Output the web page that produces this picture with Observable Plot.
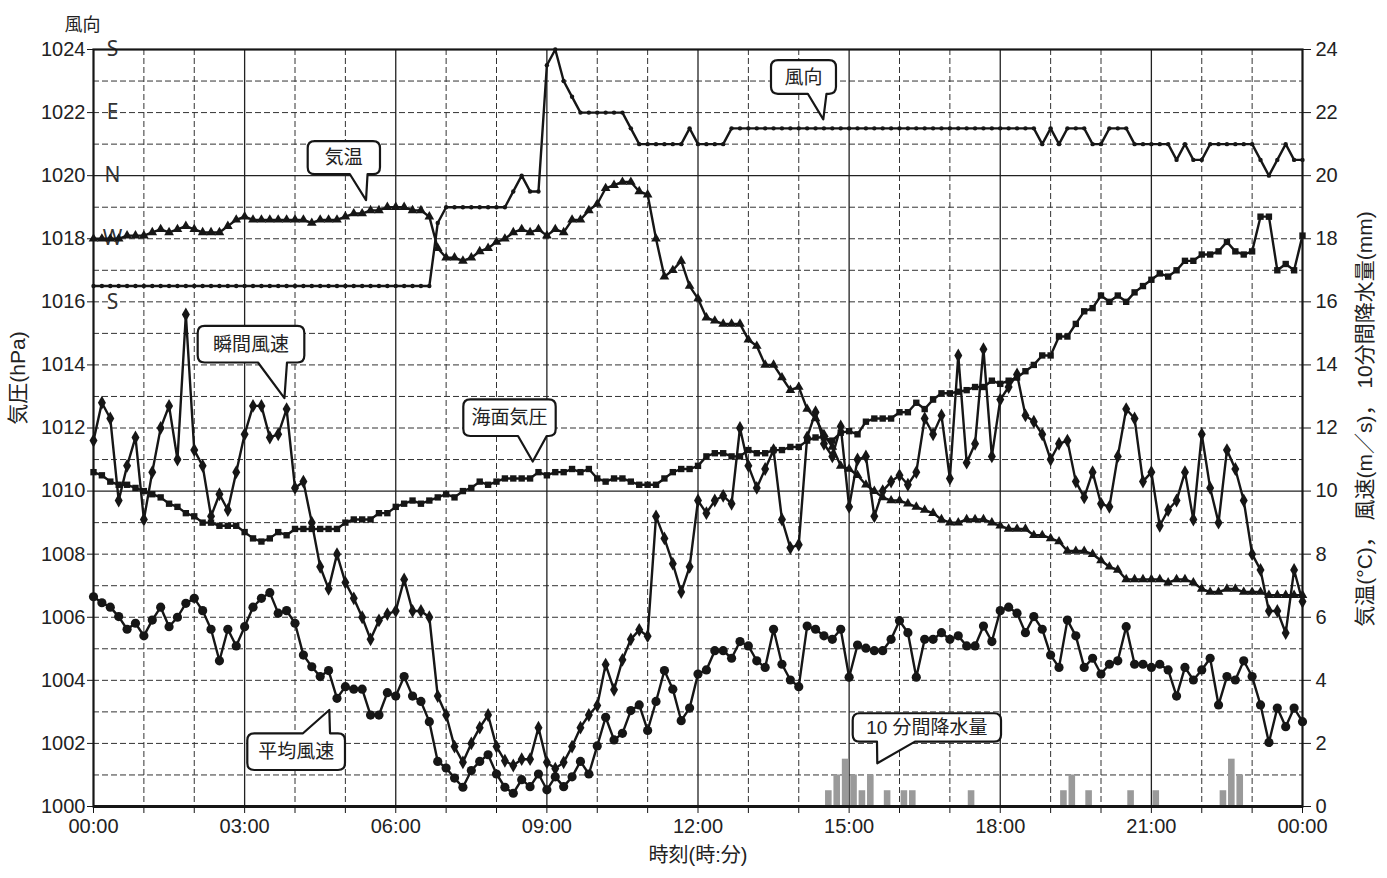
<!DOCTYPE html>
<html><head><meta charset="utf-8">
<script src="https://cdn.jsdelivr.net/npm/d3@7"></script>
<script src="https://cdn.jsdelivr.net/npm/@observablehq/plot@0.6"></script>
<style>body{margin:0;background:#fff}</style>
</head><body><div id="chart"></div>
<script>
// 10-minute observations, 00:00 .. 24:00 (145 samples)
const temperature = [
18.0,18.0,18.0,18.0,18.1,18.1,18.1,18.2,18.3,18.2,18.3,18.4,
18.3,18.2,18.2,18.2,18.4,18.6,18.7,18.6,18.6,18.6,18.6,18.6,
18.6,18.6,18.5,18.6,18.6,18.6,18.7,18.8,18.8,18.9,18.9,19.0,
19.0,19.0,18.9,18.9,18.7,17.7,17.4,17.4,17.3,17.4,17.6,17.7,
17.9,18.0,18.2,18.3,18.2,18.3,18.1,18.3,18.2,18.6,18.6,18.9,
19.1,19.6,19.7,19.8,19.8,19.5,19.4,18.0,16.8,17.0,17.3,16.5,
16.1,15.5,15.4,15.3,15.3,15.3,14.8,14.6,14.0,14.0,13.6,13.2,
13.3,12.6,12.3,11.8,11.4,10.8,10.7,10.5,10.2,10.0,9.8,9.7,
9.7,9.6,9.5,9.4,9.3,9.1,9.0,9.0,9.1,9.1,9.1,9.0,
8.9,8.8,8.8,8.8,8.6,8.6,8.5,8.4,8.1,8.1,8.1,8.0,
7.8,7.6,7.5,7.2,7.2,7.2,7.2,7.2,7.1,7.2,7.2,7.1,
6.9,6.8,6.8,6.9,6.9,6.8,6.8,6.8,6.7,6.7,6.7,6.7,
6.7];
const pressure = [
1010.6,1010.5,1010.3,1010.2,1010.2,1010.1,1010.0,1009.9,1009.8,1009.6,1009.5,1009.3,
1009.2,1009.0,1009.0,1008.9,1008.9,1008.9,1008.7,1008.5,1008.4,1008.5,1008.7,1008.6,
1008.8,1008.8,1008.8,1008.8,1008.8,1008.8,1009.0,1009.1,1009.1,1009.1,1009.3,1009.3,
1009.5,1009.6,1009.7,1009.6,1009.7,1009.8,1009.9,1009.8,1010.0,1010.1,1010.3,1010.2,
1010.3,1010.4,1010.4,1010.4,1010.4,1010.6,1010.5,1010.6,1010.6,1010.7,1010.6,1010.7,
1010.4,1010.3,1010.4,1010.4,1010.3,1010.2,1010.2,1010.2,1010.4,1010.6,1010.7,1010.7,
1010.8,1011.1,1011.2,1011.2,1011.1,1011.1,1011.3,1011.2,1011.2,1011.3,1011.3,1011.4,
1011.4,1011.6,1011.7,1011.7,1011.6,1011.85,1011.9,1011.8,1012.2,1012.3,1012.3,1012.3,
1012.5,1012.5,1012.8,1012.6,1012.9,1013.1,1013.1,1013.15,1013.2,1013.3,1013.3,1013.5,
1013.4,1013.5,1013.6,1013.8,1014.0,1014.3,1014.3,1014.9,1014.9,1015.3,1015.7,1015.8,
1016.2,1016.0,1016.2,1016.0,1016.3,1016.5,1016.7,1016.9,1016.8,1017.0,1017.3,1017.3,
1017.5,1017.5,1017.6,1017.9,1017.6,1017.5,1017.6,1018.7,1018.7,1017.0,1017.2,1017.0,
1018.1];
const gust = [
11.6,12.8,12.3,9.7,10.8,11.7,9.1,10.6,12.0,12.7,11.0,15.6,
11.3,10.8,9.2,9.9,9.4,10.6,11.8,12.7,12.7,11.7,11.8,12.6,
10.1,10.3,9.0,7.6,6.9,8.0,7.1,6.6,6.0,5.3,5.9,6.1,
6.2,7.2,6.2,6.2,6.0,3.5,2.9,1.9,1.4,2.0,2.5,2.9,
1.9,1.45,1.3,1.5,1.5,2.5,1.4,1.2,1.4,1.9,2.5,2.9,
3.2,4.5,3.7,4.65,5.3,5.6,5.4,9.2,8.5,7.7,6.8,7.6,
9.7,9.3,9.7,9.85,9.6,12.0,10.8,10.1,10.7,11.3,9.1,8.2,
8.3,11.7,12.5,11.5,11.1,12.05,9.5,11.0,11.1,9.2,10.0,10.3,
10.5,10.2,10.6,12.3,11.8,12.4,10.4,14.3,10.9,11.5,14.5,11.1,
12.9,13.3,13.7,12.4,12.2,11.8,11.0,11.5,11.6,10.3,9.8,10.6,
9.6,9.5,11.1,12.6,12.3,10.3,10.6,8.9,9.4,9.7,10.6,9.1,
11.8,10.1,9.0,11.3,10.7,9.7,8.0,7.5,6.2,6.2,5.5,7.5,
6.5];
const meanWind = [
6.65,6.46,6.32,6.02,5.62,5.81,5.41,5.91,6.32,5.7,6.0,6.44,
6.6,6.21,5.62,4.62,5.62,5.09,5.7,6.32,6.6,6.78,6.13,6.21,
5.81,4.8,4.43,4.12,4.31,3.43,3.8,3.72,3.72,2.9,2.9,3.61,
3.5,4.12,3.5,3.33,2.69,1.43,1.22,0.9,0.61,1.14,1.43,1.64,
1.03,0.61,0.42,0.85,0.63,1.03,0.53,0.94,0.63,0.94,1.43,1.03,
1.92,2.83,2.11,2.32,3.04,3.22,2.41,3.33,4.31,3.72,2.72,3.12,
4.2,4.33,4.94,4.94,4.7,5.23,5.09,4.62,4.41,5.62,4.51,4.01,
3.8,5.72,5.62,5.41,5.3,5.62,4.1,5.12,5.02,4.94,4.94,5.3,
5.89,5.51,4.1,5.3,5.3,5.51,5.3,5.41,5.09,5.09,5.72,5.23,
6.21,6.32,6.13,5.51,6.02,5.62,4.8,4.41,5.91,5.41,4.41,4.7,
4.2,4.51,4.62,5.7,4.51,4.51,4.41,4.51,4.33,3.5,4.41,4.01,
4.33,4.7,3.22,4.12,4.01,4.62,4.12,3.22,2.03,3.12,2.53,3.12,
2.69];
const windDir = [
"SSW","SSW","SSW","SSW","SSW","SSW","SSW","SSW","SSW","SSW","SSW","SSW",
"SSW","SSW","SSW","SSW","SSW","SSW","SSW","SSW","SSW","SSW","SSW","SSW",
"SSW","SSW","SSW","SSW","SSW","SSW","SSW","SSW","SSW","SSW","SSW","SSW",
"SSW","SSW","SSW","SSW","SSW","WNW","NW","NW","NW","NW","NW","NW",
"NW","NW","NNW","N","NNW","NNW","SSE","S","SE","ESE","E","E",
"E","E","E","E","ENE","NE","NE","NE","NE","NE","NE","ENE",
"NE","NE","NE","NE","ENE","ENE","ENE","ENE","ENE","ENE","ENE","ENE",
"ENE","ENE","ENE","ENE","ENE","ENE","ENE","ENE","ENE","ENE","ENE","ENE",
"ENE","ENE","ENE","ENE","ENE","ENE","ENE","ENE","ENE","ENE","ENE","ENE",
"ENE","ENE","ENE","ENE","ENE","NE","ENE","NE","ENE","ENE","ENE","NE",
"NE","ENE","ENE","ENE","NE","NE","NE","NE","NE","NNE","NE","NNE",
"NNE","NE","NE","NE","NE","NE","NE","NNE","N","NNE","NE","NNE",
"NNE"];
const precipTimes = ["14:40","14:50","15:00","15:10","15:20","15:30","15:50","16:10","16:20","17:30",
                     "19:20","19:30","19:50","20:40","21:10","22:30","22:40","22:50"];
const precipMm    = [0.5,1.0,1.5,1.0,0.5,1.0,0.5,0.5,0.5,0.5, 0.5,1.0,0.5,0.5,0.5,0.5,1.5,1.0];

// direction axis: S(bottom) W N E S(top)
const compass = ["S","SSW","SW","WSW","W","WNW","NW","NNW","N","NNE","NE","ENE","E","ESE","SE","SSE","S"];
const dirAxisLabels = ["S","E","N","W","S"];
const dirAxisValues = [24,22,20,18,16];
const leftTicks = d3.range(0, 25, 2);
const hourTicks = d3.range(0, 25, 1);

const hourOf = i => i / 6;
const hm = s => { const [h, m] = s.split(":").map(Number); return h + m / 60; };
const dirPos = name => 16 + 0.5 * compass.lastIndexOf(name);

const tData = temperature.map((v, i) => ({t: hourOf(i), v}));
const pData = pressure.map((p, i) => ({t: hourOf(i), v: p - 1000}));
const gData = gust.map((v, i) => ({t: hourOf(i), v}));
const mData = meanWind.map((v, i) => ({t: hourOf(i), v}));
const dData = windDir.map((d, i) => ({t: hourOf(i), v: dirPos(d)}));
const rData = precipTimes.map((s, i) => ({t: hm(s), v: precipMm[i]}));

const callouts = [
  {label: "気温", x0: 4.262, x1: 5.697, y0: 21.08, y1: 20.03, b0: 5.10, b1: 5.45, tx: 5.42, ty: 19.21, side: "bottom"},
  {label: "瞬間風速", x0: 2.078, x1: 4.195, y0: 15.22, y1: 14.06, b0: 3.275, b1: 3.851, tx: 3.80, ty: 12.93, side: "bottom"},
  {label: "海面気圧", x0: 7.351, x1: 9.185, y0: 12.89, y1: 11.73, b0: 8.437, b1: 9.006, tx: 8.729, ty: 10.92, side: "bottom"},
  {label: "風向", x0: 13.459, x1: 14.749, y0: 23.65, y1: 22.58, b0: 14.19, b1: 14.56, tx: 14.497, ty: 21.77, side: "bottom"},
  {label: "平均風速", x0: 3.063, x1: 5.002, y0: 2.305, y1: 1.141, b0: 4.169, b1: 4.705, tx: 4.691, ty: 3.044, side: "top"},
  {label: "10 分間降水量", x0: 15.081, x1: 18.025, y0: 2.94, y1: 2.04, b0: 15.563, b1: 16.317, tx: 15.569, ty: 1.354, side: "bottom"}
];

const FONT = "'Liberation Sans', Arial, 'Noto Sans CJK JP', sans-serif";
const INK = "#161616";
const fmtHour = h => String(h % 24).padStart(2, "0") + ":00";

const chart = Plot.plot({
  width: 1387, height: 878,
  marginLeft: 93, marginRight: 85, marginTop: 49, marginBottom: 72,
  x: {type: "linear", domain: [0, 24]},
  y: {type: "linear", domain: [0, 24]},
  style: {fontFamily: FONT, fontSize: "20px", color: "#222", background: "#fff"},
  marks: [
    // grid
    Plot.ruleY(d3.range(1, 24).filter(v => v % 10 !== 0), {stroke: "#333", strokeWidth: 1, strokeDasharray: "6,3"}),
    Plot.ruleX(d3.range(1, 24).filter(h => h % 3 !== 0), {stroke: "#333", strokeWidth: 1, strokeDasharray: "6,3"}),
    Plot.ruleY([10, 20], {stroke: "#222", strokeWidth: 1.3}),
    Plot.ruleX(d3.range(3, 24, 3), {stroke: "#222", strokeWidth: 1.3}),
    // direction letters
    Plot.text(dirAxisLabels, {x: 0, y: (d, i) => dirAxisValues[i], text: d => d, dx: 19, fontSize: 21, fill: "#333", fontFamily: "'Noto Sans', 'DejaVu Sans', sans-serif"}),
    // precipitation
    Plot.rectY(rData, {x1: d => d.t - 1/6, x2: "t", y: "v", fill: "#9a9a9a", insetLeft: 1.6, insetRight: 0.2}),
    // series
    Plot.line(dData, {x: "t", y: "v", stroke: INK, strokeWidth: 2.4}),
    Plot.dot(dData, {x: "t", y: "v", r: 2.2, fill: INK}),
    Plot.line(tData, {x: "t", y: "v", stroke: INK, strokeWidth: 2.4}),
    Plot.dot(tData, {x: "t", y: "v", symbol: "triangle", r: 3.6, fill: INK}),
    Plot.line(pData, {x: "t", y: "v", stroke: INK, strokeWidth: 2.4}),
    Plot.dot(pData, {x: "t", y: "v", symbol: "square", r: 3.6, fill: INK}),
    Plot.line(gData, {x: "t", y: "v", stroke: INK, strokeWidth: 2.4}),
    Plot.dot(gData, {x: "t", y: "v", symbol: "diamond", r: 4.2, fill: INK}),
    Plot.line(mData, {x: "t", y: "v", stroke: INK, strokeWidth: 2.4}),
    Plot.dot(mData, {x: "t", y: "v", r: 4.6, fill: INK}),
    // frame & axes
    Plot.frame({stroke: INK, strokeWidth: 2.2}),
    Plot.ruleY([0], {stroke: INK, strokeWidth: 3.2}),
    Plot.axisY({anchor: "left", ticks: leftTicks, tickFormat: d => String(1000 + d), tickSize: 6, tickPadding: 2, label: null, fontSize: 20, stroke: INK}),
    Plot.axisY({anchor: "right", ticks: leftTicks, tickFormat: d => String(d), tickSize: 8, tickPadding: 5, label: null, fontSize: 20, stroke: INK}),
    Plot.axisX({ticks: hourTicks, tickFormat: h => h % 3 === 0 ? fmtHour(h) : "", tickSize: 7, tickPadding: 5, label: null, fontSize: 20, stroke: INK}),
    // titles
    Plot.text(["時刻(時:分)"], {frameAnchor: "bottom", dy: 55, fontSize: 20, fill: "#222"}),
    Plot.text(["気圧(hPa)"], {frameAnchor: "left", textAnchor: "middle", dx: -75, dy: -50, rotate: -90, fontSize: 21, fill: "#222"}),
    Plot.text(["気温(°C)， 風速(m／s)， 10分間降水量(mm)"], {frameAnchor: "right", textAnchor: "middle", dx: 63, dy: -9, rotate: -90, fontSize: 21, fill: "#222"}),
    Plot.text(["風向"], {frameAnchor: "top-left", textAnchor: "middle", dx: -11, dy: -31, fontSize: 18, fill: "#222"})
  ]
});

// callout bubbles, positioned through the chart's own scales
const sx = chart.scale("x"), sy = chart.scale("y");
const fx = sx.apply ? v => sx.apply(v) : d3.scaleLinear(sx.domain, sx.range);
const fy = sy.apply ? v => sy.apply(v) : d3.scaleLinear(sy.domain, sy.range);
const svg = d3.select(chart.tagName.toLowerCase() === "svg" ? chart : chart.querySelector("svg"));
const g = svg.append("g");
for (const c of callouts) {
  const X0 = fx(c.x0), X1 = fx(c.x1), Y0 = fy(c.y0), Y1 = fy(c.y1);
  const B0 = fx(c.b0), B1 = fx(c.b1), TX = fx(c.tx), TY = fy(c.ty), r = 7;
  let p = `M${X0 + r},${Y0}`;
  if (c.side === "top") p += `L${B0},${Y0}L${TX},${TY}L${B1},${Y0}`;
  p += `L${X1 - r},${Y0}Q${X1},${Y0} ${X1},${Y0 + r}L${X1},${Y1 - r}Q${X1},${Y1} ${X1 - r},${Y1}`;
  if (c.side === "bottom") p += `L${B1},${Y1}L${TX},${TY}L${B0},${Y1}`;
  p += `L${X0 + r},${Y1}Q${X0},${Y1} ${X0},${Y1 - r}L${X0},${Y0 + r}Q${X0},${Y0} ${X0 + r},${Y0}Z`;
  g.append("path").attr("d", p).attr("fill", "#fff").attr("stroke", INK).attr("stroke-width", 2.2).attr("stroke-linejoin", "round");
  g.append("text").attr("x", (X0 + X1) / 2).attr("y", (Y0 + Y1) / 2).attr("dy", "0.35em")
    .attr("text-anchor", "middle").attr("font-size", 19).attr("font-family", FONT).attr("fill", "#222").text(c.label);
}
document.getElementById("chart").appendChild(chart);
</script>
</body></html>
